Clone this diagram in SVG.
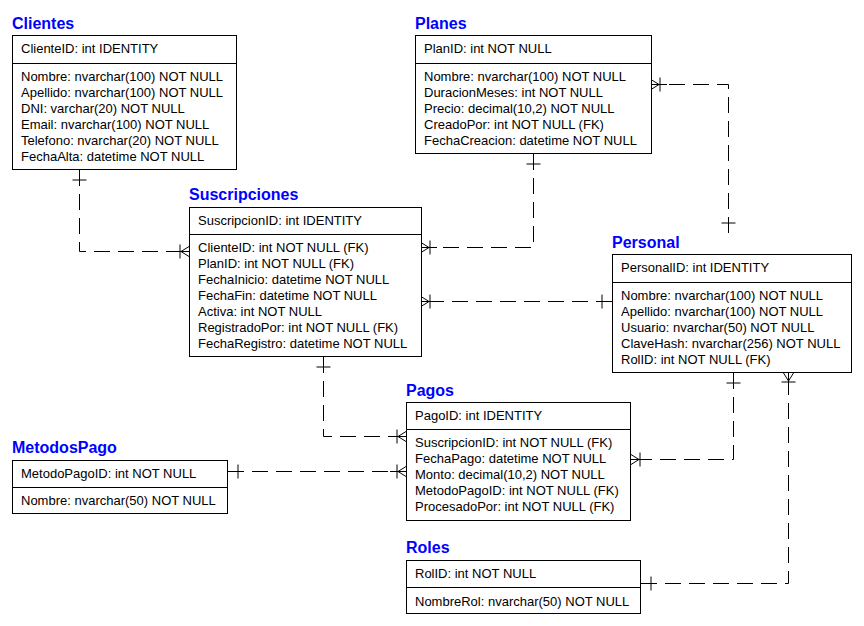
<svg xmlns="http://www.w3.org/2000/svg" width="864" height="626" viewBox="0 0 864 626">
<style>
.box{fill:#fff;stroke:#000;stroke-width:1}
.div{stroke:#000;stroke-width:1}
.t{font-family:"Liberation Sans",Arial,sans-serif;font-size:13px;fill:#000}
.title{font-family:"Liberation Sans",Arial,sans-serif;font-size:16px;font-weight:bold;fill:#0000FF}
.conn{fill:none;stroke:#000;stroke-width:1;stroke-dasharray:16 8}
</style>
<defs>
<marker id="one" markerUnits="userSpaceOnUse" orient="auto-start-reverse" refX="0" refY="0" markerWidth="30" markerHeight="30" viewBox="-20 -10 30 20" overflow="visible">
<path d="M-16,0H0M-10,-7V7" fill="none" stroke="#000" stroke-width="1"/>
</marker>
<marker id="many" markerUnits="userSpaceOnUse" orient="auto-start-reverse" refX="0" refY="0" markerWidth="30" markerHeight="30" viewBox="-20 -10 30 20" overflow="visible">
<path d="M-16,0H0M-9,-7V7M-8,0L0,-5M-8,0L0,5" fill="none" stroke="#000" stroke-width="1"/>
</marker>
</defs>
<rect width="864" height="626" fill="#fff"/>

<g id="connectors">
<path class="conn" d="M79.5,170 V251.5 H189" marker-start="url(#one)" marker-end="url(#many)"/>
<path class="conn" d="M533.5,154 V247.5 H421" marker-start="url(#one)" marker-end="url(#many)"/>
<path class="conn" d="M612,301.5 H421" marker-start="url(#one)" marker-end="url(#many)"/>
<path class="conn" d="M728.5,233 V84.5 H651" marker-start="url(#one)" marker-end="url(#many)"/>
<path class="conn" d="M323.5,357 V436.5 H406" marker-start="url(#one)" marker-end="url(#many)"/>
<path class="conn" d="M228,471.5 H406" marker-start="url(#one)" marker-end="url(#many)"/>
<path class="conn" d="M733.5,373 V459.5 H631" marker-start="url(#one)" marker-end="url(#many)"/>
<path class="conn" d="M641,583.5 H788.5 V373" marker-start="url(#one)" marker-end="url(#many)"/>
</g>

<g id="Clientes">
<text class="title" x="12" y="29">Clientes</text>
<rect class="box" x="12.5" y="35.5" width="224" height="134"/>
<line class="div" x1="12.5" y1="63.5" x2="236.5" y2="63.5"/>
<text class="t" x="21" y="53">ClienteID: int IDENTITY</text>
<text class="t" x="21" y="81">Nombre: nvarchar(100) NOT NULL</text>
<text class="t" x="21" y="97">Apellido: nvarchar(100) NOT NULL</text>
<text class="t" x="21" y="113">DNI: varchar(20) NOT NULL</text>
<text class="t" x="21" y="129">Email: nvarchar(100) NOT NULL</text>
<text class="t" x="21" y="145">Telefono: nvarchar(20) NOT NULL</text>
<text class="t" x="21" y="161">FechaAlta: datetime NOT NULL</text>
</g>

<g id="Planes">
<text class="title" x="415" y="29">Planes</text>
<rect class="box" x="415.5" y="35.5" width="236" height="118"/>
<line class="div" x1="415.5" y1="63.5" x2="651.5" y2="63.5"/>
<text class="t" x="424" y="53">PlanID: int NOT NULL</text>
<text class="t" x="424" y="81">Nombre: nvarchar(100) NOT NULL</text>
<text class="t" x="424" y="97">DuracionMeses: int NOT NULL</text>
<text class="t" x="424" y="113">Precio: decimal(10,2) NOT NULL</text>
<text class="t" x="424" y="129">CreadoPor: int NOT NULL (FK)</text>
<text class="t" x="424" y="145">FechaCreacion: datetime NOT NULL</text>
</g>

<g id="Suscripciones">
<text class="title" x="189" y="200">Suscripciones</text>
<rect class="box" x="189.5" y="207.5" width="232" height="149"/>
<line class="div" x1="189.5" y1="234.5" x2="421.5" y2="234.5"/>
<text class="t" x="198" y="225">SuscripcionID: int IDENTITY</text>
<text class="t" x="198" y="252">ClienteID: int NOT NULL (FK)</text>
<text class="t" x="198" y="268">PlanID: int NOT NULL (FK)</text>
<text class="t" x="198" y="284">FechaInicio: datetime NOT NULL</text>
<text class="t" x="198" y="300">FechaFin: datetime NOT NULL</text>
<text class="t" x="198" y="316">Activa: int NOT NULL</text>
<text class="t" x="198" y="332">RegistradoPor: int NOT NULL (FK)</text>
<text class="t" x="198" y="348">FechaRegistro: datetime NOT NULL</text>
</g>

<g id="Personal">
<text class="title" x="612" y="248">Personal</text>
<rect class="box" x="612.5" y="254.5" width="239" height="118"/>
<line class="div" x1="612.5" y1="282.5" x2="851.5" y2="282.5"/>
<text class="t" x="621" y="272">PersonalID: int IDENTITY</text>
<text class="t" x="621" y="300">Nombre: nvarchar(100) NOT NULL</text>
<text class="t" x="621" y="316">Apellido: nvarchar(100) NOT NULL</text>
<text class="t" x="621" y="332">Usuario: nvarchar(50) NOT NULL</text>
<text class="t" x="621" y="348">ClaveHash: nvarchar(256) NOT NULL</text>
<text class="t" x="621" y="364">RolID: int NOT NULL (FK)</text>
</g>

<g id="Pagos">
<text class="title" x="406" y="396">Pagos</text>
<rect class="box" x="406.5" y="402.5" width="224" height="118"/>
<line class="div" x1="406.5" y1="429.5" x2="630.5" y2="429.5"/>
<text class="t" x="415" y="420">PagoID: int IDENTITY</text>
<text class="t" x="415" y="447">SuscripcionID: int NOT NULL (FK)</text>
<text class="t" x="415" y="463">FechaPago: datetime NOT NULL</text>
<text class="t" x="415" y="479">Monto: decimal(10,2) NOT NULL</text>
<text class="t" x="415" y="495">MetodoPagoID: int NOT NULL (FK)</text>
<text class="t" x="415" y="511">ProcesadoPor: int NOT NULL (FK)</text>
</g>

<g id="MetodosPago">
<text class="title" x="12" y="453">MetodosPago</text>
<rect class="box" x="12.5" y="460.5" width="215" height="53"/>
<line class="div" x1="12.5" y1="487.5" x2="227.5" y2="487.5"/>
<text class="t" x="21" y="478">MetodoPagoID: int NOT NULL</text>
<text class="t" x="21" y="505">Nombre: nvarchar(50) NOT NULL</text>
</g>

<g id="Roles">
<text class="title" x="406" y="553">Roles</text>
<rect class="box" x="406.5" y="560.5" width="234" height="53"/>
<line class="div" x1="406.5" y1="587.5" x2="640.5" y2="587.5"/>
<text class="t" x="415" y="578">RolID: int NOT NULL</text>
<text class="t" x="415" y="606">NombreRol: nvarchar(50) NOT NULL</text>
</g>
</svg>
